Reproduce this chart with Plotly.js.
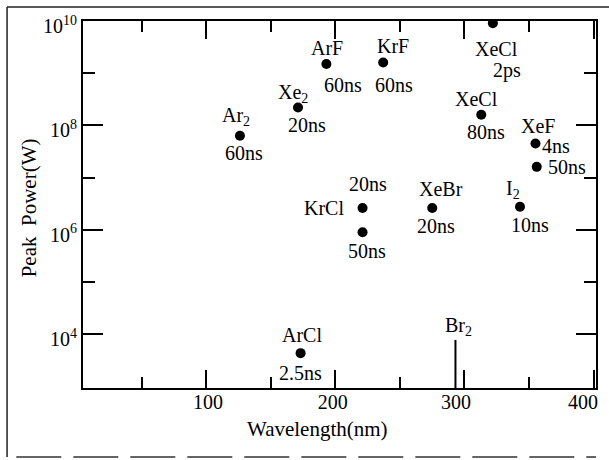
<!DOCTYPE html>
<html><head><meta charset="utf-8">
<script src="https://cdn.plot.ly/plotly-3.0.1.min.js"></script>
<style>html,body{margin:0;padding:0;background:#fff}</style>
</head><body><div id="chart" style="width:609px;height:460px"></div>
<script>
// ---- data ----
const species = ['Ar<sub>2</sub>','Xe<sub>2</sub>','ArF','KrF','XeCl','XeCl','XeF','XeF','KrCl','KrCl','XeBr','I<sub>2</sub>','ArCl'];
const wavelengthNm = [126,171,193,237,322,313,355,356,221,221,275,343,173];
const peakPowerW = [6.3e7,2.2e8,1.5e9,1.6e9,9.1e9,1.6e8,4.5e7,1.6e7,2.6e6,8.9e5,2.6e6,2.75e6,4.3e3];
const pulseWidth = ['60ns','20ns','60ns','60ns','2ps','80ns','4ns','50ns','20ns','50ns','20ns','10ns','2.5ns'];
const br2Label = 'Br<sub>2</sub>';
const br2WavelengthNm = [293];
const br2PeakW = [7.7e3];
const xTickVals = [100,200,300,400];
const xMinorTickVals = [50,150,250,350];
const xTickText = ['100','200','300','400'];
const yTickVals = [1e4,1e6,1e8,1e10];
const yMinorTickVals = [1e5,1e7,1e9];
const yTickText = ['10<sup>4</sup>','10<sup>6</sup>','10<sup>8</sup>','10<sup>10</sup>'];

// ---- layout / style ----
const xRange = [4.4, 401.9];
const yRange = [2.965, 10];
const xLabelPos = [101.3, 197.9, 293.4, 391.8]; // where the printed labels sit
const speciesShow = [true,true,true,true,true,true,true,false,true,false,true,true,true];
const speciesOff = [[-4,-19],[-5,-14],[1,-16],[10,-17],[4,26],[-5,-16],[3,-17],[0,0],[-39,0],[0,0],[9,-19],[-7,-17],[1,-18]];
const pulseOff = [[4,17],[9,18],[17,21],[11,22],[14,47],[5,17],[21,3],[30,0],[5,-24],[4,19],[4,18],[10,18],[0,20]];
const FONT = 'Liberation Serif, Times New Roman, serif';
const lblFont = {family: FONT, size: 20, color: '#000'};

const annotations = [];
for (let i = 0; i < wavelengthNm.length; i++) {
  const ly = Math.log10(peakPowerW[i]);
  if (speciesShow[i]) annotations.push({x: wavelengthNm[i], y: ly, xref:'x', yref:'y', text: species[i], showarrow:false,
    xanchor:'center', yanchor:'middle', xshift: speciesOff[i][0], yshift: -speciesOff[i][1], font: lblFont});
  annotations.push({x: wavelengthNm[i], y: ly, xref:'x', yref:'y', text: pulseWidth[i], showarrow:false,
    xanchor:'center', yanchor:'middle', xshift: pulseOff[i][0], yshift: -pulseOff[i][1], font: lblFont});
}
annotations.push({x: br2WavelengthNm[0], y: Math.log10(br2PeakW[0]), xref:'x', yref:'y', text: br2Label, showarrow:false,
  xanchor:'center', yanchor:'middle', xshift: 3, yshift: 13, font: lblFont});
annotations.push({x: 0.458, y: -0.112, xref:'paper', yref:'paper', text:'Wavelength(nm)', showarrow:false,
  xanchor:'center', yanchor:'middle', font: {family: FONT, size: 21, color:'#000'}});
annotations.push({x: -0.105, y: 0.49, xref:'paper', yref:'paper', text:'Peak  Power(W)', showarrow:false, textangle:-90,
  xanchor:'center', yanchor:'middle', font: {family: FONT, size: 21, color:'#000'}});

const traces = [
  {x: wavelengthNm, y: peakPowerW, mode:'markers', type:'scatter', marker:{color:'#000', size:10}, hoverinfo:'x+y', showlegend:false},
  {x: [br2WavelengthNm[0], br2WavelengthNm[0]], y: [br2PeakW[0], Math.pow(10, yRange[0])], mode:'lines', type:'scatter',
    line:{color:'#000', width:2}, showlegend:false, hoverinfo:'skip'},
  {x: [], y: [], xaxis:'x2', yaxis:'y', type:'scatter', mode:'markers', showlegend:false, hoverinfo:'skip'}
];

const axisCommon = {showgrid:false, zeroline:false, showline:true, linecolor:'#000', linewidth:2,
  ticks:'inside', tickwidth:2, tickcolor:'#000', mirror:'ticks'};

const layout = {
  width: 609, height: 460,
  margin: {l:83, r:13, t:21, b:72, pad:0},
  paper_bgcolor:'#fff', plot_bgcolor:'#fff',
  showlegend:false,
  xaxis: Object.assign({}, axisCommon, {range: xRange, tickmode:'array', tickvals: xTickVals, ticklen:18,
    showticklabels:false,
    minor:{tickmode:'array', tickvals: xMinorTickVals, ticklen:11, tickwidth:2, tickcolor:'#000', ticks:'inside'}}),
  xaxis2: {overlaying:'x', side:'bottom', range: xRange, tickmode:'array', tickvals: xLabelPos, ticktext: xTickText,
    ticks:'', showline:false, showgrid:false, zeroline:false, tickfont:{family:FONT, size:20, color:'#000'}},
  yaxis: Object.assign({}, axisCommon, {type:'log', range: yRange, tickmode:'array', tickvals: yTickVals, ticktext: yTickText,
    ticklen:20, ticklabelshift:5, tickfont:{family:FONT, size:20, color:'#000'},
    minor:{tickmode:'array', tickvals: yMinorTickVals, ticklen:12, tickwidth:2, tickcolor:'#000', ticks:'inside'}}),
  annotations: annotations,
  shapes: [
    {type:'line', xref:'paper', yref:'paper', x0:-0.148, x1:-0.148, y0:1.038, y1:-0.188, line:{color:'#222', width:1.5}},
    {type:'line', xref:'paper', yref:'paper', x0:-0.148, x1:1.03, y0:1.038, y1:1.038, line:{color:'#222', width:1.5}},
    {type:'line', xref:'paper', yref:'paper', x0:-0.13, x1:1.0, y0:-0.188, y1:-0.188, line:{color:'#333', width:1.5, dash:'45px,12px'}}
  ]
};

Plotly.newPlot('chart', traces, layout, {staticPlot:true, displayModeBar:false});
</script>
</body></html>
